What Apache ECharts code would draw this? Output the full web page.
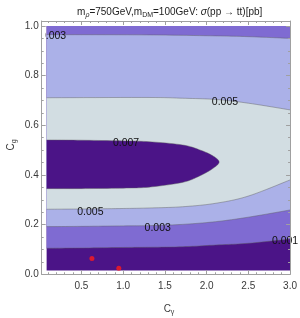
<!DOCTYPE html>
<html><head><meta charset="utf-8">
<script src="https://cdn.jsdelivr.net/npm/echarts@6/dist/echarts.min.js"></script>
<style>html,body{margin:0;padding:0;background:#fff}#c{width:300px;height:318px}</style>
</head><body><div id="c"></div>
<script>
// ---- data ----
const xTicks = [0.5, 1.0, 1.5, 2.0, 2.5, 3.0];
const xMinorTicks = [0.1,0.2,0.3,0.4,0.6,0.7,0.8,0.9,1.1,1.2,1.3,1.4,1.6,1.7,1.8,1.9,2.1,2.2,2.3,2.4,2.6,2.7,2.8,2.9];
const yTicks = [0.0, 0.2, 0.4, 0.6, 0.8, 1.0];
const yMinorTicks = [0.05,0.1,0.15,0.25,0.3,0.35,0.45,0.5,0.55,0.65,0.7,0.75,0.85,0.9,0.95];
const dataXRange = [0.083, 3.0];
const dataYRange = [0.015, 1.0];
// contour curves [Cγ, Cg]
const c001Low  = [[0.083,0.105],[0.5,0.106],[1.0,0.108],[1.31,0.109],[1.71,0.111],[2.11,0.118],[2.5,0.125],[3.0,0.142]];
const c003Low  = [[0.083,0.192],[0.5,0.193],[1.0,0.195],[1.31,0.196],[1.71,0.201],[2.11,0.212],[2.5,0.23],[3.0,0.259]];
const c005Low  = [[0.083,0.262],[0.5,0.263],[1.0,0.265],[1.31,0.267],[1.71,0.272],[2.11,0.286],[2.5,0.315],[3.0,0.38]];
const c007Loop = [[0.083,0.345],[0.5,0.345],[1.0,0.347],[1.31,0.351],[1.71,0.37],[1.91,0.395],[2.07,0.425],[2.15,0.452],
                  [2.07,0.478],[1.91,0.502],[1.71,0.521],[1.31,0.534],[1.0,0.537],[0.5,0.54],[0.083,0.541]];
const c005High = [[0.083,0.711],[1.31,0.712],[1.71,0.709],[2.11,0.704],[2.5,0.689],[3.0,0.662]];
const c003High = [[0.083,0.965],[1.31,0.964],[2.11,0.96],[2.5,0.957],[3.0,0.95]];
const labelTexts = ['0.003','0.005','0.007','0.005','0.003','0.001'];
const labelAnchors = [[0.16,0.958],[2.22,0.695],[1.035,0.53],[0.607,0.252],[1.414,0.188],[2.94,0.134]];
const redPoints = [[0.626,0.064],[0.948,0.024]];

// ---- styles ----
const colDark = '#4b1487', colMid = '#7f6bd2', colLight = '#abb1e8', colPale = '#d2dde2';
const frameCol = '#a0a0a0', lineCol = 'rgba(95,95,95,0.55)', txtCol = '#3a3a3a';
const FONT = 'Liberation Sans';
const X0 = 0.024, X1 = 3.0, Y0 = 0, Y1 = 1.02;

function smoothPx(px){
  const out=[px[0]];
  for(let i=0;i<px.length-1;i++){
    const p0=px[i-1]||px[i], p1=px[i], p2=px[i+1], p3=px[i+2]||px[i+1];
    const c1=[p1[0]+(p2[0]-p0[0])/6, p1[1]+(p2[1]-p0[1])/6];
    const c2=[p2[0]-(p3[0]-p1[0])/6, p2[1]-(p3[1]-p1[1])/6];
    for(let s=1;s<=10;s++){
      const t=s/10, u=1-t;
      out.push([u*u*u*p1[0]+3*u*u*t*c1[0]+3*u*t*t*c2[0]+t*t*t*p2[0],
                u*u*u*p1[1]+3*u*u*t*c1[1]+3*u*t*t*c2[1]+t*t*t*p2[1]]);
    }
  }
  return out;
}

function renderContours(params, api){
  const P = arr => arr.map(p => api.coord(p));
  const curve = arr => smoothPx(P(arr));
  const band = (lo, hi) => curve(lo).concat(curve(hi.slice().reverse()));
  const children = [];
  const tl = api.coord([dataXRange[0], dataYRange[1]]), br = api.coord([dataXRange[1], dataYRange[0]]);
  children.push({type:'rect', shape:{x:tl[0], y:tl[1], width:br[0]-tl[0], height:br[1]-tl[1]}, style:{fill:colDark}});
  const topEdge = [[dataXRange[0], dataYRange[1]], [dataXRange[1], dataYRange[1]]];
  children.push({type:'polygon', shape:{points:curve(c001Low).concat(P(topEdge.slice().reverse()))}, style:{fill:colMid}});
  children.push({type:'polygon', shape:{points:band(c003Low, c003High)}, style:{fill:colLight}});
  children.push({type:'polygon', shape:{points:band(c005Low, c005High)}, style:{fill:colPale}});
  children.push({type:'polygon', shape:{points:curve(c007Loop)}, style:{fill:colDark}});
  [c001Low, c003Low, c005Low, c005High, c003High, c007Loop].forEach(c => {
    children.push({type:'polyline', shape:{points:curve(c)}, style:{stroke:lineCol, lineWidth:0.8, fill:null}});
  });
  const p0 = api.coord(labelAnchors[0]);
  children.push({type:'text', x:p0[0], y:p0[1], style:{text:labelTexts[0], fill:'#111', font:'10.5px '+FONT, align:'center', verticalAlign:'middle'}});
  // white margin between frame and data region
  const fl = api.coord([X0, Y1]);
  children.push({type:'rect', shape:{x:fl[0], y:fl[1], width:tl[0]-fl[0]-1.5, height:br[1]-fl[1]+10}, style:{fill:'#fff'}});
  return {type:'group', children};
}

function renderLabels(params, api){
  const children = [];
  for(let i=1;i<labelTexts.length;i++){
    const p = api.coord(labelAnchors[i]);
    children.push({type:'text', x:p[0], y:p[1], style:{text:labelTexts[i], fill:'#111', font:'10.5px '+FONT, align:'center', verticalAlign:'middle'}});
  }
  return {type:'group', children};
}

function xAx(pos, vals, len, major){
  return {type:'value', position:pos, min:X0, max:X1, z:10,
    axisLine:{show:major, onZero:false, lineStyle:{color:frameCol, width:1}},
    axisTick:{show:true, inside:true, length:len, customValues:vals, lineStyle:{color:frameCol}},
    axisLabel:{show:major && pos==='bottom', customValues:vals, formatter:v=>v.toFixed(1), margin:7, color:txtCol, fontSize:10, fontFamily:FONT},
    splitLine:{show:false}};
}
function yAx(pos, vals, len, major){
  return {type:'value', position:pos, min:Y0, max:Y1, z:10,
    axisLine:{show:major, onZero:false, lineStyle:{color:frameCol, width:1}},
    axisTick:{show:true, inside:true, length:len, customValues:vals, lineStyle:{color:frameCol}},
    axisLabel:{show:major && pos==='left', customValues:vals, formatter:v=>v.toFixed(1), margin:3, color:txtCol, fontSize:10, fontFamily:FONT},
    splitLine:{show:false}};
}

const chart = echarts.init(document.getElementById('c'), null, {renderer:'canvas'});
chart.setOption({
  animation:false,
  backgroundColor:'#fff',
  grid:{left:41.7, right:8.3, top:21, bottom:43.7, containLabel:false},
  xAxis:[xAx('bottom',xTicks,4,true), xAx('bottom',xMinorTicks,2,false), xAx('top',xTicks,4,true), xAx('top',xMinorTicks,2,false)],
  yAxis:[yAx('left',yTicks,4,true), yAx('left',yMinorTicks,2,false), yAx('right',yTicks,4,true), yAx('right',yMinorTicks,2,false)],
  graphic:[
    {type:'text', x:169.7, y:12, style:{
      text:'{a|m}{si|ρ}{a|=750GeV,m}{s|DM}{a|=100GeV: }{i|σ}{a|(pp → tt)[pb]}',
      align:'center', verticalAlign:'middle',
      rich:{
        a:{fontSize:10, fontFamily:FONT, fill:'#222', lineHeight:14},
        i:{fontSize:10, fontFamily:FONT, fontStyle:'italic', fill:'#222', lineHeight:14},
        s:{fontSize:7, fontFamily:FONT, fill:'#222', lineHeight:8, verticalAlign:'bottom'},
        si:{fontSize:7, fontFamily:FONT, fontStyle:'italic', fill:'#222', lineHeight:8, verticalAlign:'bottom'}
      }}},
    {type:'text', x:169, y:309, style:{
      text:'{a|C}{s|γ}', align:'center', verticalAlign:'middle',
      rich:{a:{fontSize:10, fontFamily:FONT, fill:txtCol, lineHeight:14}, s:{fontSize:7, fontFamily:FONT, fill:txtCol, lineHeight:8, verticalAlign:'bottom'}}}},
    {type:'text', x:11, y:145, rotation:Math.PI/2, style:{
      text:'{a|C}{s|g}', align:'center', verticalAlign:'middle',
      rich:{a:{fontSize:10, fontFamily:FONT, fill:txtCol, lineHeight:14}, s:{fontSize:7, fontFamily:FONT, fill:txtCol, lineHeight:8, verticalAlign:'bottom'}}}}
  ],
  series:[
    {type:'custom', clip:true, z:2, silent:true, data:[[1,0.5]], renderItem:renderContours},
    {type:'custom', clip:false, z:3, silent:true, data:[[1,0.5]], renderItem:renderLabels},
    {type:'scatter', z:4, symbol:'circle', symbolSize:5, itemStyle:{color:'#ff1a1a'}, data:redPoints, silent:true}
  ]
});
</script>
</body></html>
